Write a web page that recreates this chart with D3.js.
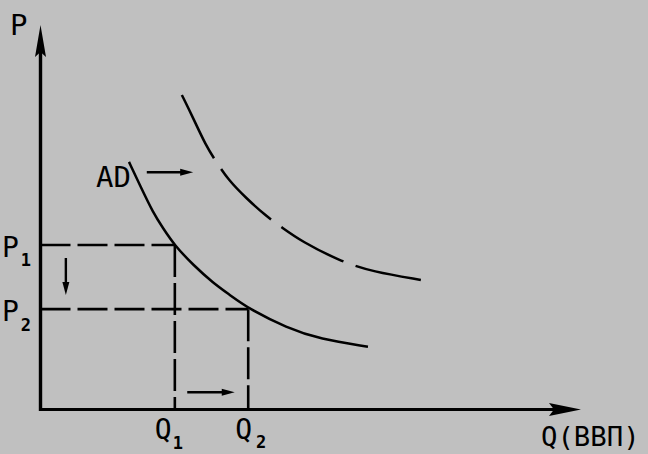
<!DOCTYPE html>
<html>
<head>
<meta charset="utf-8">
<script src="https://cdn.jsdelivr.net/npm/d3@7"></script>
<style>
  html, body { margin: 0; padding: 0; background: #c0c0c0; }
  svg { display: block; }
  text { font-family: "DejaVu Sans Mono", monospace; fill: #000; }
</style>
</head>
<body>
<svg id="chart" width="648" height="454"></svg>
<script>
// ---- data (model units) ----
const adQ  = [1.64, 1.84, 2.09, 2.27, 2.49, 2.83, 3.20, 3.51, 3.85, 4.57, 5.18, 6.07];
const adP  = [6.44, 5.84, 5.11, 4.72, 4.26, 3.76, 3.29, 2.98, 2.63, 2.12, 1.83, 1.63];
const ad2Q = [2.62, 2.83, 3.07, 3.25, 3.48, 3.81, 4.18, 4.49, 4.83, 5.55, 6.16, 7.05];
const ad2P = [8.18, 7.58, 6.85, 6.46, 5.97, 5.50, 5.03, 4.72, 4.38, 3.86, 3.58, 3.37];
const pLevels = [4.28, 2.61];
const pSubs = ["1", "2"];
const qLevels = [2.49, 3.85];
const qSubs = ["1", "2"];
const axisLabels = ["P", "Q(ВВП)"];
const curveLabel = "AD";

const svg = d3.select("#chart");
const x = d3.scaleLinear([0, 10], [40.5, 580]);
const y = d3.scaleLinear([0, 10], [409.5, 25]);

// dashed guide lines
pLevels.forEach((p, i) => {
  svg.append("line")
    .attr("x1", x(0)).attr("x2", x(qLevels[i]))
    .attr("y1", y(p)).attr("y2", y(p))
    .attr("stroke", "#000").attr("stroke-width", 2.6)
    .attr("stroke-dasharray", "30,7");
  svg.append("line")
    .attr("x1", x(qLevels[i])).attr("x2", x(qLevels[i]))
    .attr("y1", y(p)).attr("y2", y(0))
    .attr("stroke", "#000").attr("stroke-width", 2.6)
    .attr("stroke-dasharray", "32,6");
});

// axes
svg.append("line").attr("x1", x(0)).attr("x2", x(0))
  .attr("y1", y(0) + 1.5).attr("y2", y(10) + 20)
  .attr("stroke", "#000").attr("stroke-width", 3.4);
svg.append("line").attr("x1", x(0)).attr("x2", x(10) - 20)
  .attr("y1", y(0)).attr("y2", y(0))
  .attr("stroke", "#000").attr("stroke-width", 3.2);
{
  const tx = x(0), ty = y(10);
  svg.append("path")
    .attr("d", `M${tx},${ty} L${tx - 5.5},${ty + 32} L${tx},${ty + 27} L${tx + 5.5},${ty + 32} Z`)
    .attr("fill", "#000");
  const hx = x(10) + 1, hy = y(0);
  svg.append("path")
    .attr("d", `M${hx},${hy} L${hx - 32},${hy - 6.5} L${hx - 27},${hy} L${hx - 32},${hy + 6.5} Z`)
    .attr("fill", "#000");
}

// curves
const line = d3.line().x(d => x(d[0])).y(d => y(d[1])).curve(d3.curveBasis);
svg.append("path").datum(d3.zip(adQ, adP))
  .attr("d", line).attr("fill", "none")
  .attr("stroke", "#000").attr("stroke-width", 2.5);
svg.append("path").datum(d3.zip(ad2Q, ad2P))
  .attr("d", line).attr("fill", "none")
  .attr("stroke", "#000").attr("stroke-width", 2.5)
  .attr("stroke-dasharray", "71,13");

// small shift arrows
function arrow(x1, y1, x2, y2) {
  const a = Math.atan2(y2 - y1, x2 - x1), L = 13, W = 3.5;
  svg.append("line").attr("x1", x1).attr("y1", y1)
    .attr("x2", x2 - L * 0.6 * Math.cos(a)).attr("y2", y2 - L * 0.6 * Math.sin(a))
    .attr("stroke", "#000").attr("stroke-width", 2.4);
  const bx = x2 - L * Math.cos(a), by = y2 - L * Math.sin(a);
  const nx = -Math.sin(a) * W, ny = Math.cos(a) * W;
  svg.append("path")
    .attr("d", `M${x2},${y2} L${bx + nx},${by + ny} L${bx - nx},${by - ny} Z`)
    .attr("fill", "#000");
}
arrow(x(1.97), y(6.17), x(2.83), y(6.17));
arrow(x(0.47), y(3.94), x(0.47), y(2.98));
arrow(x(2.72), y(0.45), x(3.6), y(0.45));

// labels
svg.append("text").attr("x", 10).attr("y", 35).attr("font-size", 29).text(axisLabels[0]);
svg.append("text").attr("x", 96).attr("y", 187).attr("font-size", 29).text(curveLabel);
svg.append("text").attr("x", 541).attr("y", 446).attr("font-size", 27.3).text(axisLabels[1]);

pLevels.forEach((p, i) => {
  const t = svg.append("text").attr("x", 2).attr("y", y(p) + 12).attr("font-size", 28);
  t.append("tspan").text("P");
  t.append("tspan").attr("font-size", 17).attr("font-weight", "bold").attr("dx", 2)
    .attr("dy", i === 0 ? 9 : 10).text(pSubs[i]);
});
const qLabelShift = [-18, -11];
const qSubDx = [1, 4];
const qSubDy = [10, 9];
qLevels.forEach((q, i) => {
  const t = svg.append("text").attr("x", x(q) + qLabelShift[i] - 2).attr("y", 439).attr("font-size", 28);
  t.append("tspan").text("Q");
  t.append("tspan").attr("font-size", 17).attr("font-weight", "bold")
    .attr("dx", qSubDx[i]).attr("dy", qSubDy[i]).text(qSubs[i]);
});
</script>
</body>
</html>
